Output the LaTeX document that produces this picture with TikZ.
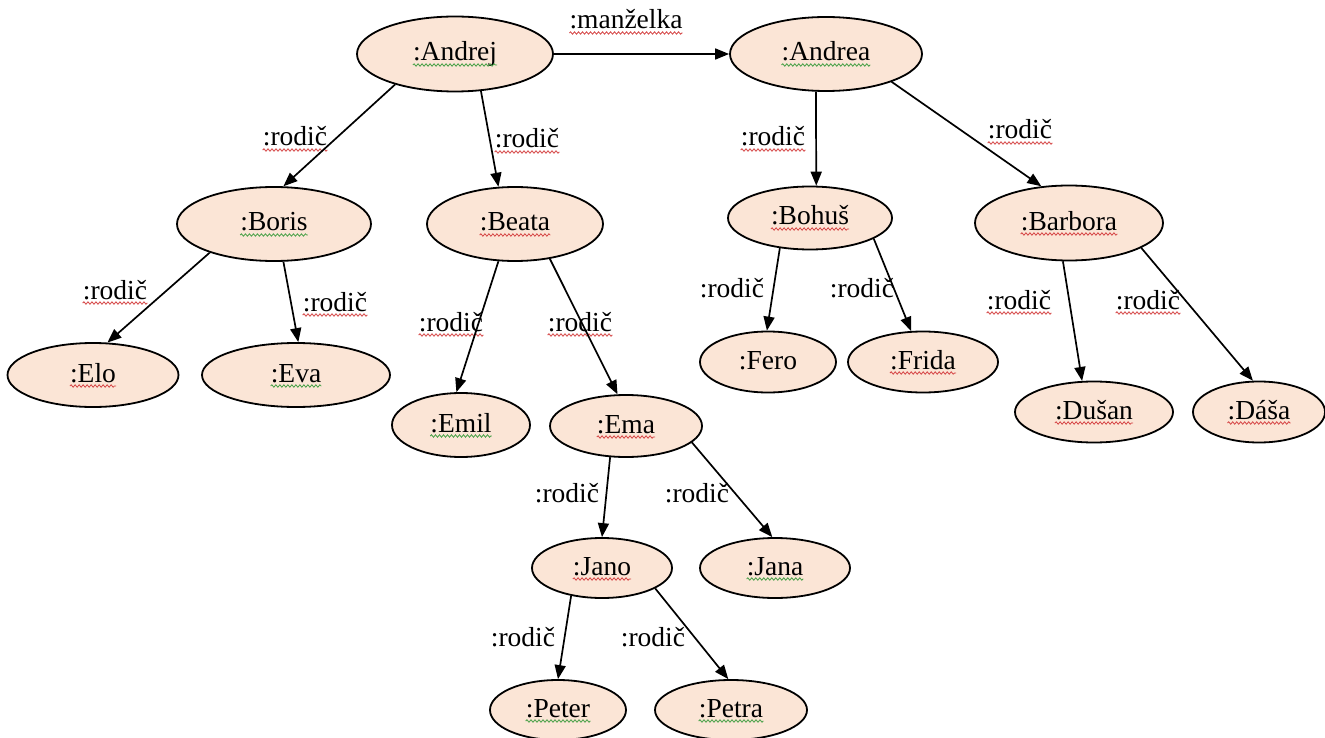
\documentclass[tikz,border=0pt]{standalone}
\usepackage{fontspec}
\setmainfont{Liberation Serif}
\usetikzlibrary{arrows.meta,shapes.geometric,decorations.pathmorphing}
\definecolor{peach}{RGB}{251,229,214}
\definecolor{sqred}{RGB}{214,70,70}
\definecolor{sqgreen}{RGB}{70,160,70}
\newcommand\squig[2]{\draw[sq=#1] ([yshift=-4pt]#2.base west) -- ([yshift=-4pt]#2.base east);}
\begin{document}
\begin{tikzpicture}[x=1pt,y=-1pt,
  person/.style 2 args={draw, line width=1.8pt, fill=peach, ellipse, inner sep=0pt,
    minimum width=#1, minimum height=#2},
  nm/.style={inner sep=0pt, font=\fontsize{27.5}{30}\selectfont, text height=19pt, text depth=5pt},
  lbl/.style={inner sep=0pt, font=\fontsize{27.5}{30}\selectfont, anchor=base},
  rel/.style={line width=1.7pt, -{Triangle[length=14pt,width=11pt]}},
  sq/.style={draw=#1, line width=0.8pt, decorate,
    decoration={snake, amplitude=1.2pt, segment length=4pt}}
]
\useasboundingbox (0,0) rectangle (1325,738);
\fill[white] (0,0) rectangle (1325,738);

% persons
\node[person={196}{75}] (andrej)  at (455,54)  {};
\node[person={192}{74}] (andrea)  at (826,54)  {};
\node[person={194}{74}] (boris)   at (274,224) {};
\node[person={176}{74}] (beata)   at (515,224) {};
\node[person={164}{63}] (bohus)   at (810,218) {};
\node[person={188}{75}] (barbora) at (1069,223) {};
\node[person={171}{64}] (elo)     at (93,375)  {};
\node[person={188}{64}] (eva)     at (296,375) {};
\node[person={138}{64}] (emil)    at (461,425) {};
\node[person={152}{62}] (ema)     at (626,426) {};
\node[person={136}{61}] (fero)    at (768,362) {};
\node[person={150}{61}] (frida)   at (923,362) {};
\node[person={158}{61}] (dusan)   at (1094,412) {};
\node[person={132}{61}] (dasa)    at (1259,412) {};
\node[person={140}{60}] (jano)    at (602,568) {};
\node[person={150}{60}] (jana)    at (775,568) {};
\node[person={136}{60}] (peter)   at (558,710) {};
\node[person={152}{60}] (petra)   at (731,710) {};

% names
\node[nm] (andrejT)  at (andrej)  {:Andrej};
\node[nm] (andreaT)  at (andrea)  {:Andrea};
\node[nm] (borisT)   at (boris)   {:Boris};
\node[nm] (beataT)   at (beata)   {:Beata};
\node[nm] (bohusT)   at (bohus)   {:Bohuš};
\node[nm] (barboraT) at (barbora) {:Barbora};
\node[nm] (eloT)     at (elo)     {:Elo};
\node[nm] (evaT)     at (eva)     {:Eva};
\node[nm] (emilT)    at (emil)    {:Emil};
\node[nm] (emaT)     at (ema)     {:Ema};
\node[nm] (feroT)    at (fero)    {:Fero};
\node[nm] (fridaT)   at (frida)   {:Frida};
\node[nm] (dusanT)   at (dusan)   {:Dušan};
\node[nm] (dasaT)    at (dasa)    {:Dáša};
\node[nm] (janoT)    at (jano)    {:Jano};
\node[nm] (janaT)    at (jana)    {:Jana};
\node[nm] (peterT)   at (peter)   {:Peter};
\node[nm] (petraT)   at (petra)   {:Petra};

% relation labels
\node[lbl] (lm)  at (626,29)   {:manželka};
\node[lbl] (l1)  at (295,146)  {:rodič};
\node[lbl] (l2)  at (527,148)  {:rodič};
\node[lbl] (l3)  at (773,146)  {:rodič};
\node[lbl] (l4)  at (1020,139) {:rodič};
\node[lbl] (l5)  at (115,299)  {:rodič};
\node[lbl] (l6)  at (335,311)  {:rodič};
\node[lbl] (l7)  at (451,331)  {:rodič};
\node[lbl] (l8)  at (580,331)  {:rodič};
\node[lbl] (l9)  at (732,297)  {:rodič};
\node[lbl] (l10) at (862,297)  {:rodič};
\node[lbl] (l11) at (1019,309) {:rodič};
\node[lbl] (l12) at (1148,309) {:rodič};
\node[lbl] (l13) at (567,502)  {:rodič};
\node[lbl] (l14) at (697,502)  {:rodič};
\node[lbl] (l15) at (523,646)  {:rodič};
\node[lbl] (l16) at (653,646)  {:rodič};

% squiggles
\squig{sqgreen}{andrejT}
\squig{sqgreen}{andreaT}
\squig{sqgreen}{borisT}
\squig{sqred}{beataT}
\squig{sqred}{bohusT}
\squig{sqred}{barboraT}
\squig{sqred}{eloT}
\squig{sqgreen}{evaT}
\squig{sqgreen}{emilT}
\squig{sqred}{emaT}
\squig{sqred}{fridaT}
\squig{sqred}{dusanT}
\squig{sqred}{dasaT}
\squig{sqred}{janoT}
\squig{sqgreen}{janaT}
\squig{sqgreen}{peterT}
\squig{sqgreen}{petraT}
\squig{sqred}{lm}
\squig{sqred}{l1}
\squig{sqred}{l2}
\squig{sqred}{l3}
\squig{sqred}{l4}
\squig{sqred}{l5}
\squig{sqred}{l6}
\squig{sqred}{l7}
\squig{sqred}{l8}
\squig{sqred}{l11}
\squig{sqred}{l12}

% relations
\draw[rel] (andrej.east) -- (andrea.west);
\draw[rel] (andrej.207.3) -- (boris.76.3);
\draw[rel] (andrej.-55.6) -- (beata.114.7);
\draw[rel] (andrea.-105) -- (bohus.79);
\draw[rel] (andrea.-23.7) -- (barbora.127.3);
\draw[rel] (boris.204.4) -- (elo.66.4);
\draw[rel] (boris.-76.7) -- (eva.86.4);
\draw[rel] (beata.-114.1) -- (emil.98.9);
\draw[rel] (beata.-45.8) -- (ema.105.3);
\draw[rel] (ema.-117.3) -- (jano.north);
\draw[rel] (ema.-14.4) -- (jana.95.5);
\draw[rel] (jano.-138.6) -- (peter.north);
\draw[rel] (jano.-21.6) -- (petra.95.7);
\draw[rel] (bohus.225) -- (fero.92);
\draw[rel] (bohus.-18.2) -- (frida.111.8);
\draw[rel] (barbora.-99) -- (dusan.111.8);
\draw[rel] (barbora.-19.6) -- (dasa.101.3);
\end{tikzpicture}
\end{document}
